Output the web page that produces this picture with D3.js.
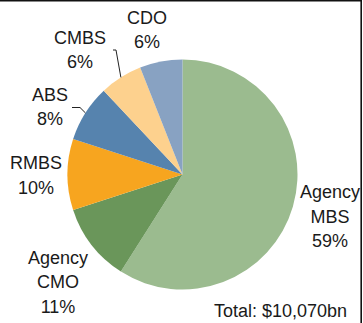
<!DOCTYPE html>
<html>
<head>
<meta charset="utf-8">
<script src="https://cdn.jsdelivr.net/npm/d3@7"></script>
<style>
  html, body { margin: 0; padding: 0; background: #fff; }
  svg { display: block; }
  text { font-family: "Liberation Sans", Arial, sans-serif; font-size: 18px; fill: #1a1a1a; }
</style>
</head>
<body>
<script>
// Outstanding securitised debt by type
const categories = ["Agency MBS", "Agency CMO", "RMBS", "ABS", "CMBS", "CDO"];
const labelLines = [["Agency", "MBS"], ["Agency", "CMO"], ["RMBS"], ["ABS"], ["CMBS"], ["CDO"]];
const shares = [59, 11, 10, 8, 6, 6];
const totalBn = 10070;

const sliceColors = ["#9bbb8f", "#6a965a", "#f7a51f", "#5683ae", "#fdd18e", "#88a2c2"];

// label anchors: centre x and first baseline; elbow = start of the leader line
const labelLayout = [
  { x: 330, y: 198 },
  { x: 58,  y: 263.5 },
  { x: 36,  y: 169 },
  { x: 50,  y: 100.5, elbow: [[72, 107.5], [80, 107.5]] },
  { x: 80,  y: 43.5,  elbow: [[113, 50], [116, 50]] },
  { x: 147, y: 23.5 }
];

const W = 363, H = 323;
const cx = 182.5, cy = 174.5, R = 115;
const lineH = 24.5;

const svg = d3.select("body").append("svg").attr("width", W).attr("height", H);

// frame along top and right
svg.append("path")
  .attr("d", `M0,0.8 H361.2 V${H}`)
  .attr("fill", "none")
  .attr("stroke", "#111")
  .attr("stroke-width", 1.6);

const data = categories.map((c, i) => ({ name: c, value: shares[i], lines: labelLines[i], i }));

const pie = d3.pie().value(d => d.value).sort(null).startAngle(0).endAngle(2 * Math.PI);
const arcs = pie(data);
const arc = d3.arc().innerRadius(0).outerRadius(R);
const edge = d3.arc().innerRadius(R).outerRadius(R);

const g = svg.append("g").attr("transform", `translate(${cx},${cy})`);
g.selectAll("path.slice")
  .data(arcs)
  .join("path")
  .attr("class", "slice")
  .attr("d", arc)
  .attr("fill", d => sliceColors[d.data.i]);

// leader lines from label elbow to the slice's outer edge
arcs.forEach(a => {
  const lay = labelLayout[a.data.i];
  if (!lay.elbow) return;
  const mid = (a.startAngle + a.endAngle) / 2;
  const ex = cx + R * Math.sin(mid), ey = cy - R * Math.cos(mid);
  const pts = lay.elbow.concat([[ex, ey]]);
  svg.append("path")
    .attr("d", d3.line()(pts))
    .attr("fill", "none")
    .attr("stroke", "#222")
    .attr("stroke-width", 1);
});

// category labels with percentage
const fmtPct = d3.format(".0f");
arcs.forEach(a => {
  const lay = labelLayout[a.data.i];
  const t = svg.append("text").attr("text-anchor", "middle");
  const rows = a.data.lines.concat([fmtPct(a.data.value) + "%"]);
  rows.forEach((r, k) => {
    t.append("tspan").attr("x", lay.x).attr("y", lay.y + k * lineH).text(r);
  });
});

svg.append("text")
  .attr("x", 214)
  .attr("y", 316.5)
  .text("Total: $" + d3.format(",")(totalBn) + "bn");
</script>
</body>
</html>
